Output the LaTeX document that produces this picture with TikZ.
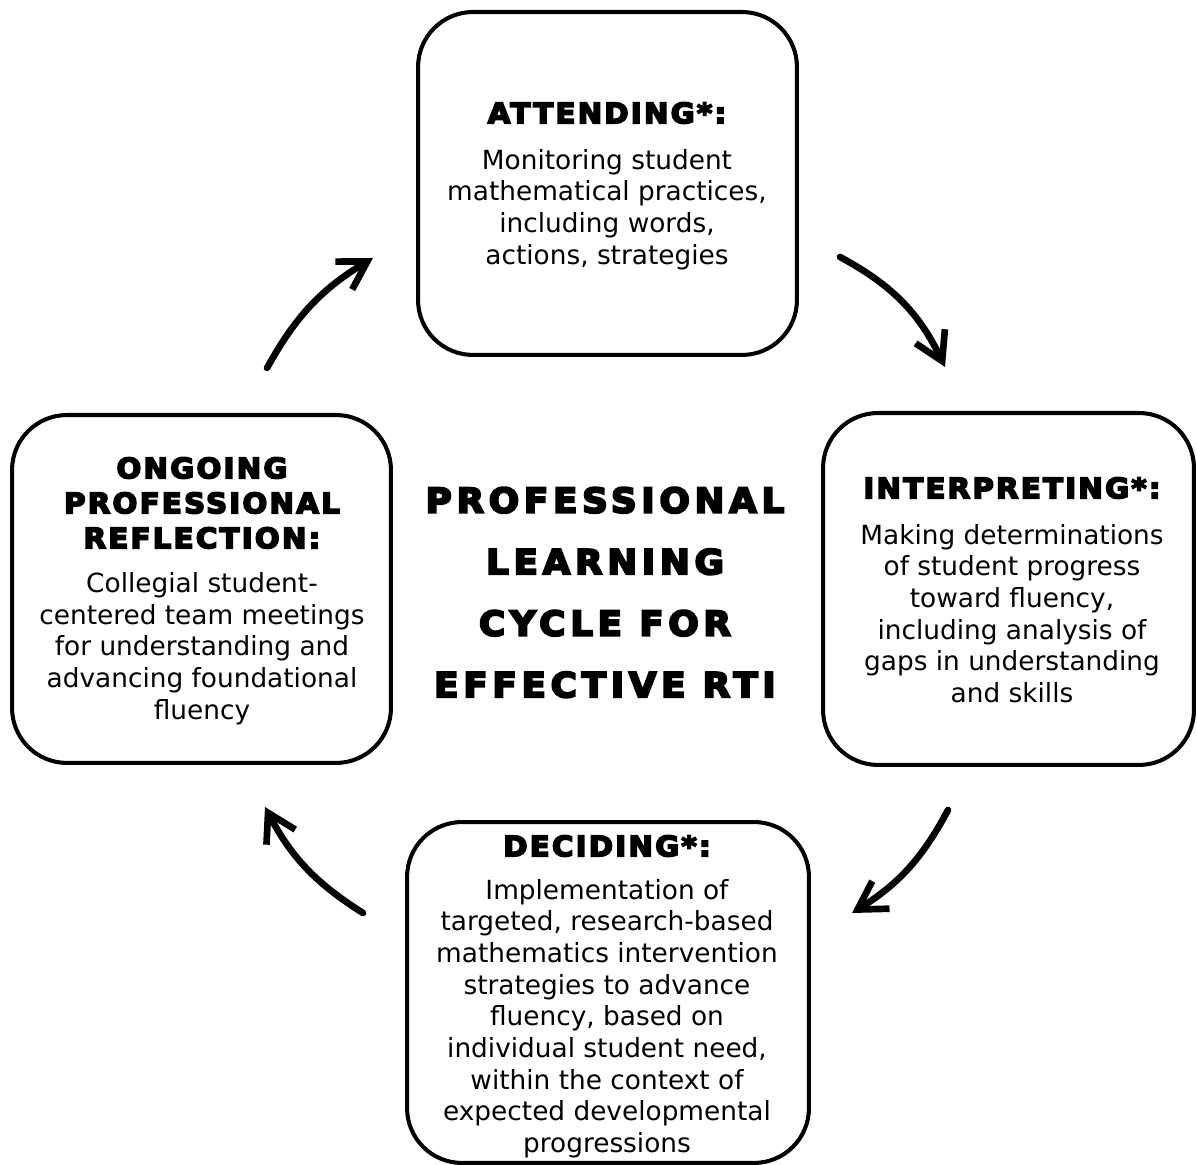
\documentclass[tikz,border=0pt]{standalone}
\usepackage{fontspec}
\setmainfont{DejaVu Sans}
\newfontfamily\headfont{DejaVu Sans Bold}[LetterSpace=8, FakeStretch=1.04, FakeBold=6]
\newfontfamily\titlefont{DejaVu Sans Bold}[LetterSpace=14, FakeStretch=1.04, FakeBold=6]
\usetikzlibrary{arrows.meta}

\tikzset{
  stage/.style={draw, line width=2.3pt, rounded corners=1.1cm, inner sep=0pt},
  head/.style={font=\headfont\fontsize{16}{19.9}\selectfont, align=center},
  body/.style={font=\fontsize{15}{18}\selectfont, align=center},
  cyc/.style={line width=3.8pt, line cap=round, -{Straight Barb[length=5.5mm,width=6.5mm]}}
}

\begin{document}
\begin{tikzpicture}[x=0.02cm,y=0.02cm]
          \useasboundingbox (0,0) rectangle (1197,1165);
          % the four stages
          \node (attend) [stage, minimum width=7.58cm, minimum height=6.86cm] at (607.5,981.5) {};
          \node (interp) [stage, minimum width=7.42cm, minimum height=7.04cm] at (1008.5,576) {};
          \node (decide) [stage, minimum width=8.04cm, minimum height=6.82cm] at (608,172.5) {};
          \node (reflect) [stage, minimum width=7.58cm, minimum height=6.96cm] at (201.5,576) {};

          \node (attendhd) [head] at (607,1052) {ATTENDING*:};
          \node (attendtx) [body] at (607,955.5) {Monitoring student\\mathematical practices,\\including words,\\actions, strategies};

          \node (interphd) [head] at (1012,677) {INTERPRETING*:};
          \node (interptx) [body] at (1012,551.5) {Making determinations\\of student progress\\toward fluency,\\including analysis of\\gaps in understanding\\and skills};

          \node (decidehd) [head] at (607,319) {DECIDING*:};
          \node (decidetx) [body] at (607,146.5) {Implementation of\\targeted, research-based\\mathematics intervention\\strategies to advance\\fluency, based on\\individual student need,\\within the context of\\expected developmental\\progressions};

          \node (reflecthd) [head] at (202,662) {ONGOING\\PROFESSIONAL\\REFLECTION:};
          \node (reflecttx) [body] at (202,516.5) {Collegial student-\\centered team meetings\\for understanding and\\advancing foundational\\fluency};

          % title in the middle
          \node (title) [font=\titlefont\fontsize{19.5}{35}\selectfont, align=center] at (605,572.5)
               {PROFESSIONAL\\LEARNING\\CYCLE FOR\\EFFECTIVE RTI};

          % arrows round the cycle
          \coordinate (a1s) at (267,797);  \coordinate (a1e) at (373,907);
          \coordinate (a2s) at (840,908);  \coordinate (a2e) at (945,798);
          \coordinate (a3s) at (948,355);  \coordinate (a3e) at (852,252);
          \coordinate (a4s) at (363,252);  \coordinate (a4e) at (265,358);
          \draw [cyc] (a1s) to[bend left=15] (a1e);
          \draw [cyc] (a2s) to[bend left=18] (a2e);
          \draw [cyc] (a3s) to[bend left=15] (a3e);
          \draw [cyc] (a4s) to[bend left=15] (a4e);
\end{tikzpicture}
\end{document}
